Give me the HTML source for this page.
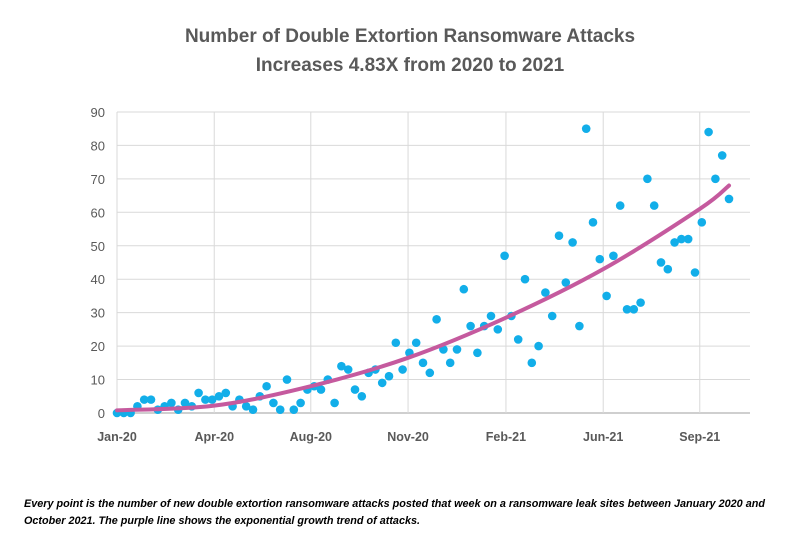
<!DOCTYPE html>
<html><head><meta charset="utf-8"><style>
body{margin:0;background:#fff;width:800px;height:546px;overflow:hidden;font-family:"Liberation Sans",sans-serif}
</style></head><body>
<svg width="800" height="546">
<g id="title" fill="#595959" font-weight="bold" font-size="19" text-anchor="middle">
<text x="410" y="42">Number of Double Extortion Ransomware Attacks</text>
<text x="410" y="71">Increases 4.83X from 2020 to 2021</text>
</g>
<g id="grid"></g>
<g id="yax"></g>
<g id="xax"></g>
<g id="pts"></g>
<path id="trend" fill="none" stroke="#c55a9e" stroke-width="4" stroke-linecap="round"/>
<g font-size="11" font-weight="bold" font-style="italic" fill="#000">
<text x="24" y="507" textLength="741" lengthAdjust="spacingAndGlyphs">Every point is the number of new double extortion ransomware attacks posted that week on a ransomware leak sites between January 2020 and</text>
<text x="24" y="524" textLength="396" lengthAdjust="spacingAndGlyphs">October 2021. The purple line shows the exponential growth trend of attacks.</text>
</g>
</svg>
<script>
const weekly=[0,0,0,2,4,4,1,2,3,1,3,2,6,4,4,5,6,2,4,2,1,5,8,3,1,10,1,3,7,8,7,10,3,14,13,7,5,12,13,9,11,
21,13,18,21,15,12,28,19,15,19,37,26,18,26,29,25,47,29,22,40,15,20,36,29,53,39,51,26,85,57,46,35,47,62,31,31,33,70,62,45,43,51,52,52,42,57,84,70,77,64];
const trendWeek=[0,14.3,28.5,42.8,57.2,71.5,85.7,90];
const trendVal=[0.8,2.2,8,16.5,28.5,43,61,68];
const xLabels=["Jan-20","Apr-20","Aug-20","Nov-20","Feb-21","Jun-21","Sep-21"];
const xLabelWeek=[0,14.3,28.5,42.8,57.2,71.5,85.7];
const yTicks=[0,10,20,30,40,50,60,70,80,90];
const NS="http://www.w3.org/2000/svg";
const X=w=>117+w*6.8, Y=v=>413-v*3.345;
function mk(t,a,p){const e=document.createElementNS(NS,t);for(const k in a)e.setAttribute(k,a[k]);p.appendChild(e);return e;}
const grid=document.getElementById('grid'),yax=document.getElementById('yax'),xax=document.getElementById('xax'),pts=document.getElementById('pts');
yTicks.forEach(v=>{
 const l=mk('line',{x1:117,x2:750,y1:Y(v),y2:Y(v),stroke:v===0?'#bfbfbf':'#d9d9d9','stroke-width':v===0?1.5:1},grid);
 
 
 const t=mk('text',{x:105,y:Y(v)+5,'text-anchor':'end','font-size':13,fill:'#595959'},yax);t.textContent=v;
 
 
});
xLabels.forEach((s,i)=>{
 const x=X(xLabelWeek[i]);
 const l=mk('line',{x1:x,x2:x,y1:Y(90),y2:Y(0),stroke:'#d9d9d9','stroke-width':1},grid);
 
 
 const t=mk('text',{x:x,y:441,'text-anchor':'middle','font-size':12.5,'font-weight':'bold',fill:'#595959'},xax);t.textContent=s;
 
 
});
weekly.forEach((v,i)=>{
 const c=mk('circle',{cx:X(i),cy:Y(v),r:4.3,fill:'#12aee9'},pts);
 
 
});
const P=trendWeek.map((w,i)=>[X(w),Y(trendVal[i])]);
let d='M'+P[0][0]+','+P[0][1];
for(let i=0;i<P.length-1;i++){
 const p0=P[Math.max(0,i-1)],p1=P[i],p2=P[i+1],p3=P[Math.min(P.length-1,i+2)];
 const c1=[p1[0]+(p2[0]-p0[0])/6,p1[1]+(p2[1]-p0[1])/6],c2=[p2[0]-(p3[0]-p1[0])/6,p2[1]-(p3[1]-p1[1])/6];
 d+=` C${c1[0]},${c1[1]} ${c2[0]},${c2[1]} ${p2[0]},${p2[1]}`;
}
document.getElementById('trend').setAttribute('d',d);
</script>
</body></html>
